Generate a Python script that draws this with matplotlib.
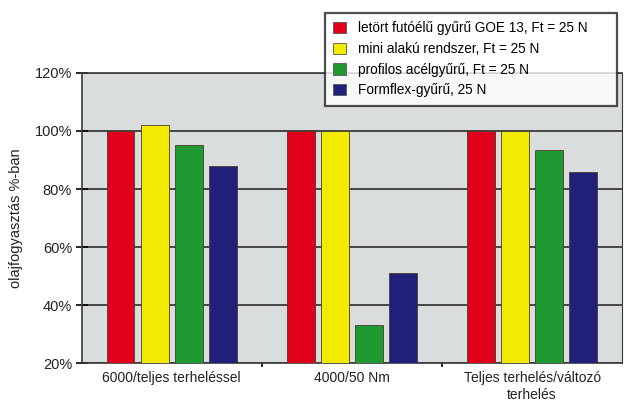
import numpy as np
import matplotlib.pyplot as plt
from matplotlib.patches import Patch
from matplotlib.ticker import FixedLocator, NullFormatter

narrow = ['Liberation Sans Narrow', 'Liberation Sans', 'DejaVu Sans']
plt.rcParams['font.family'] = ['Liberation Sans', 'DejaVu Sans']

categories = ['6000/teljes terheléssel', '4000/50 Nm', 'Teljes terhelés/változó\nterhelés']
series = ['letört futóélű gyűrű GOE 13, Ft = 25 N',
          'mini alakú rendszer, Ft = 25 N',
          'profilos acélgyűrű, Ft = 25 N',
          'Formflex-gyűrű, 25 N']
red_vals = [100, 100, 100]
yellow_vals = [102, 100, 100]
green_vals = [95, 33, 93.5]
blue_vals = [88, 51, 86]
colors = ['#e0001b', '#f2ea00', '#1f9a33', '#20207a']
yticks = [20, 40, 60, 80, 100, 120]

fig = plt.figure(figsize=(6.24, 4.03), dpi=100)
ax = fig.add_axes([0.131, 0.099, 0.866, 0.72])
ax.set_facecolor('#d9dddd')

x = np.arange(len(categories))
w = 0.155
step = 0.19
for i, (vals, c) in enumerate(zip([red_vals, yellow_vals, green_vals, blue_vals], colors)):
    ax.bar(x + (i - 1.5) * step, np.array(vals) - 20, bottom=20, width=w,
           color=c, edgecolor='#4a3a2a', linewidth=0.6, zorder=3)

ax.set_xlim(-0.5, 2.5)
ax.set_ylim(20, 120)
ax.set_yticks(yticks)
ax.set_yticklabels([f'{v}%' for v in yticks], fontsize=10.5, color='#222222')
ax.yaxis.grid(True, color='#3a3a3a', linewidth=1.3, zorder=1)
ax.tick_params(axis='y', direction='inout', length=8, width=1.2, pad=3)

ax.set_xticks(x)
ax.set_xticklabels(categories, fontsize=10, family=narrow, color='#222222')
ax.tick_params(axis='x', length=0, pad=6)
ax.xaxis.set_minor_locator(FixedLocator([0.5, 1.5]))
ax.xaxis.set_minor_formatter(NullFormatter())
ax.tick_params(axis='x', which='minor', direction='out', length=3, width=1.2)

for s in ['left', 'right', 'bottom', 'top']:
    ax.spines[s].set_color('#3a3a3a')
    ax.spines[s].set_linewidth(1.2)
ax.spines['right'].set_linewidth(0.8)

ax.set_ylabel('olajfogyasztás %-ban', fontsize=10.5, color='#222222', labelpad=8)

# legend box stretched to a fixed width in figure coordinates
handles = [Patch(facecolor=c, edgecolor='#555555', linewidth=0.6) for c in colors]
leg = fig.legend(handles, series, loc='upper left', mode='expand',
                 bbox_to_anchor=(0.521, 0.5, 0.468, 0.468),
                 prop={'family': narrow, 'size': 9.8}, frameon=True, fancybox=False,
                 shadow=False, edgecolor='#222222', facecolor='white',
                 handlelength=0.9, handleheight=0.9, handletextpad=0.9,
                 labelspacing=0.5, borderpad=0.6, borderaxespad=0)
leg.get_frame().set_linewidth(1.6)
leg.set_zorder(10)

fig.savefig('out.png', dpi=100)
